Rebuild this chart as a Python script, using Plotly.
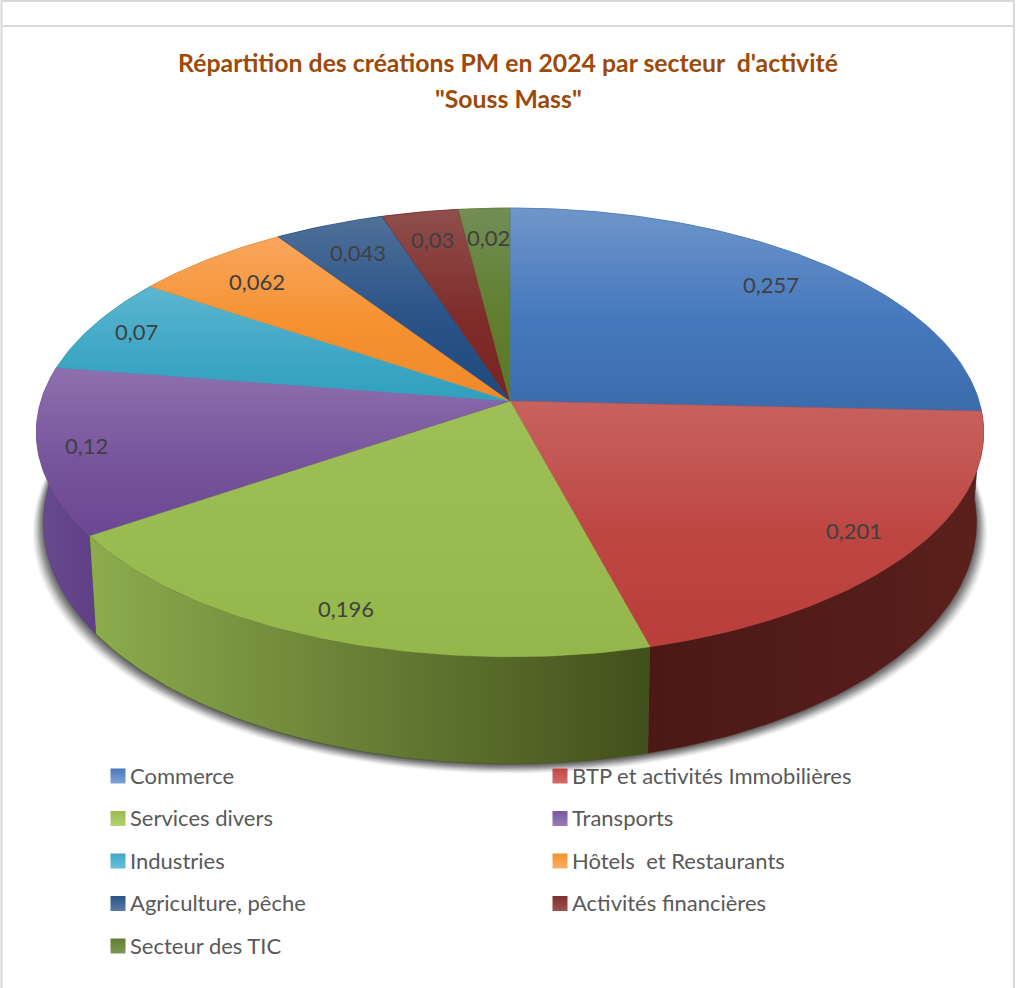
import numpy as np
import plotly.graph_objects as go

# data
categories = ['Commerce', 'BTP et activités Immobilières', 'Services divers', 'Transports', 'Industries',
              'Hôtels\u00a0 et Restaurants', 'Agriculture, pêche', 'Activités financières', 'Secteur des TIC']
values = [0.257, 0.201, 0.196, 0.12, 0.07, 0.062, 0.043, 0.03, 0.02]
value_labels = ['0,257', '0,201', '0,196', '0,12', '0,07', '0,062', '0,043', '0,03', '0,02']

# styles
top_colors = [
    ['#6E96CA', '#4678BD', '#3A6CAD'],
    ['#C7625F', '#BE4642', '#BA3E3B'],
    ['#9EBF57', '#9ABB50', '#95B64B'],
    ['#8E70AE', '#77559C', '#6B4791'],
    ['#5DB6CF', '#40A8C6', '#30A0BC'],
    ['#F9A65E', '#F5912F', '#EE8A2B'],
    ['#4F7099', '#2A5387', '#1E4A7D'],
    ['#8F4F4C', '#7F2D2B', '#782321'],
    ['#738D55', '#617F30', '#5A7A25'],
]
side_colors = [
    ['#3A6298', '#3A6298'],
    ['#4B1815', '#5A201C'],
    ['#8DAC4E', '#41501B'],
    ['#684A8E', '#5F4086'],
    ['#2C7F96', '#2C7F96'],
    ['#B86C25', '#B86C25'],
    ['#1C3C62', '#1C3C62'],
    ['#5E1D1B', '#5E1D1B'],
    ['#48601F', '#48601F'],
]
swatch_tops = ['#7FA4D6', '#D86B68', '#B3D36F', '#9A7EBC', '#66C0D8', '#FBAE66', '#587AA5', '#9C5552', '#7C9658']
label_radius = [0.83, 0.87, 0.89, 0.9, 0.895, 0.83, 0.825, 0.84, 0.83]

W, H = 1019, 988
CX, CY = 510, 401      # apex of the pie
A, B, K = 469, 220, 0.14   # perspective of the top face
BOT_SX, BOT_SY, BOT_DY = 0.985, 1.075, 88  # bottom face relative to top face


def project(t, r=1.0, bottom=False):
    # t in turns, clockwise from 12 o'clock
    u = r * np.sin(2 * np.pi * t)
    v = r * np.cos(2 * np.pi * t)
    d = 1 + K * v
    x = A * u / d
    y = -B * v / d
    if bottom:
        return CX + BOT_SX * x, CY + BOT_DY + BOT_SY * y
    return CX + x, CY + y


def arc(t0, t1, bottom=False):
    t = np.linspace(t0, t1, max(int((t1 - t0) * 360), 2) + 1)
    return project(t, bottom=bottom)


fig = go.Figure()

# soft shadow under the pie
t_all = np.linspace(0, 1, 361)
sx, sy = project(t_all, bottom=True)
for grow in [11, 10, 9, 8, 7, 6, 5, 4, 3, 2, 1, 0]:
    fig.add_trace(go.Scatter(
        x=CX + (sx - CX) * (1 + grow / 473), y=sy + 1 + grow * 0.8,
        mode='lines', line=dict(width=0), fill='toself',
        fillcolor='rgba(50,50,50,%.3f)' % (0.04 + 0.012 * (11 - grow)),
        hoverinfo='skip', showlegend=False))

edges = np.concatenate([[0], np.cumsum(values)]) / sum(values)

# side walls
for i in range(len(values)):
    tx, ty = arc(edges[i], edges[i + 1])
    bx, by = arc(edges[i], edges[i + 1], bottom=True)
    xs = np.concatenate([tx, bx[::-1]])
    ys = np.concatenate([ty, by[::-1]])
    fig.add_trace(go.Scatter(
        x=xs, y=ys, mode='lines', line=dict(width=0.5, color=side_colors[i][1]), fill='toself',
        fillgradient=dict(type='horizontal', start=xs.min(), stop=xs.max(),
                          colorscale=[[0, side_colors[i][0]], [1, side_colors[i][1]]]),
        hoverinfo='skip', showlegend=False))

# top faces
for i in range(len(values)):
    tx, ty = arc(edges[i], edges[i + 1])
    xs = np.concatenate([[CX], tx, [CX]])
    ys = np.concatenate([[CY], ty, [CY]])
    c = top_colors[i]
    fig.add_trace(go.Scatter(
        x=xs, y=ys, mode='lines', line=dict(width=0.5, color=c[1]), fill='toself',
        fillgradient=dict(type='vertical', start=ys.min(), stop=ys.max(),
                          colorscale=[[0, c[0]], [0.55, c[1]], [1, c[2]]]),
        name=categories[i], hoverinfo='name', showlegend=False))

# value labels
for i, lab in enumerate(value_labels):
    lx, ly = project((edges[i] + edges[i + 1]) / 2, r=label_radius[i])
    fig.add_annotation(x=float(lx), y=float(ly), text=lab, showarrow=False,
                       font=dict(family='Lato', size=22, color='#404040'))

# legend, two columns
for i, name in enumerate(categories):
    col = i % 2
    row = i // 2
    x0 = 118 + col * 442
    y0 = 776 + row * 42.5
    fig.add_trace(go.Scatter(
        x=[x0], y=[y0], mode='markers', name=name, hoverinfo='name', showlegend=False,
        marker=dict(symbol='square', size=15, color=top_colors[i][1], line=dict(width=0),
                    gradient=dict(type='vertical', color=swatch_tops[i]))))
    fig.add_annotation(x=x0 + 10, y=y0 - 1, text=name, showarrow=False, xanchor='left',
                       font=dict(family='Lato', size=22, color='#595959'))

# second title line sits further down than plotly's own line spacing
fig.add_annotation(x=508, y=98, text='<b>"Souss Mass"</b>', showarrow=False,
                   font=dict(family='Lato', size=24.8, color='#9C4A09'))

fig.update_layout(
    width=W, height=H,
    margin=dict(l=0, r=0, t=0, b=0),
    paper_bgcolor='white', plot_bgcolor='white',
    showlegend=False,
    title=dict(text="<b>Répartition des créations PM en 2024 par secteur\u00a0 d'activité</b>",
               x=508 / W, xanchor='center', y=1 - 63 / H, yanchor='middle',
               font=dict(family='Lato', size=24.8, color='#9C4A09')),
    xaxis=dict(range=[0, W], visible=False, fixedrange=True),
    yaxis=dict(range=[H, 0], visible=False, fixedrange=True),
    shapes=[
        dict(type='rect', xref='x', yref='y', x0=1.5, y0=1, x1=1014, y1=H + 5,
             line=dict(color='#D9D9D9', width=2), layer='below'),
        dict(type='line', xref='x', yref='y', x0=1.5, y0=26, x1=1014, y1=26,
             line=dict(color='#D9D9D9', width=2), layer='below'),
    ],
)

fig.write_html("out.html", config=dict(displayModeBar=False),
               post_script="document.body.style.margin='0';")
